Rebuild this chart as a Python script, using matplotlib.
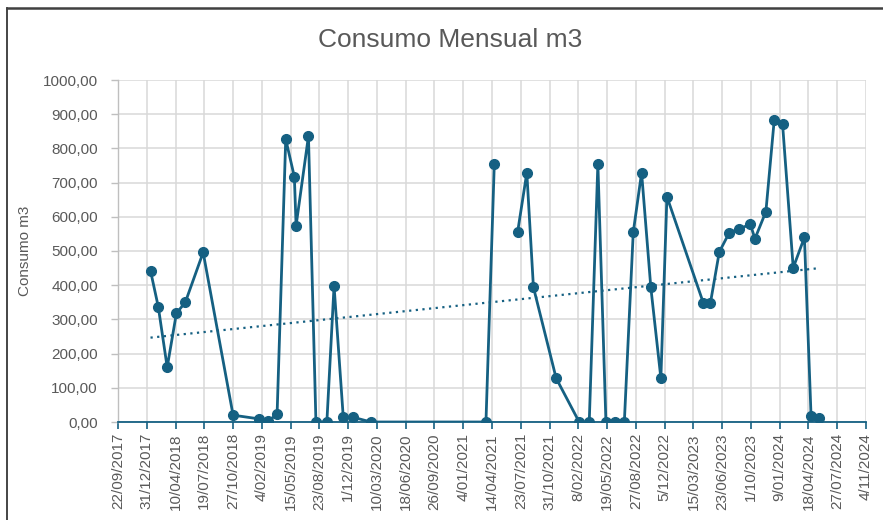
import matplotlib
matplotlib.use('Agg')
import matplotlib.pyplot as plt
import matplotlib.dates as mdates
import numpy as np
import pandas as pd
from datetime import datetime, timedelta

# Lecturas mensuales (fecha, m3); None = lectura faltante (corte en la línea)
fechas = [
    '2018-01-13', '2018-02-09', '2018-03-12', '2018-04-13', '2018-05-14', '2018-07-15',
    '2018-10-27', '2019-01-26', '2019-02-27', '2019-03-29', '2019-04-28', '2019-05-28',
    '2019-06-03', '2019-07-16', '2019-08-11', '2019-09-18', '2019-10-13', '2019-11-14',
    '2019-12-18', '2020-02-18', '2021-03-24', '2021-04-22', '2021-06-01', '2021-07-12',
    '2021-08-13', '2021-09-05', '2021-11-23', '2022-02-11', '2022-03-18', '2022-04-17',
    '2022-05-15', '2022-06-15', '2022-07-18', '2022-08-18', '2022-09-16', '2022-10-18',
    '2022-11-22', '2022-12-13', '2023-04-19', '2023-05-13', '2023-06-13', '2023-07-18',
    '2023-08-19', '2023-09-29', '2023-10-15', '2023-11-22', '2023-12-21', '2024-01-19',
    '2024-02-25', '2024-04-04', '2024-04-27', '2024-05-24',
]
consumo = [
    442, 337, 160, 318, 350, 496,
    20, 9, 3, 23, 827, 717,
    574, 836, 0, 0, 398, 14,
    14, 0, 0, 755, None, 555,
    729, 394, 128, 0, 0, 755,
    0, 0, 0, 555, 729, 394,
    128, 659, 347, 347, 497, 554,
    564, 578, 536, 615, 883, 871,
    451, 540, 18, 11,
]

x_min = datetime(2017, 9, 22)
x_max = datetime(2024, 11, 4)
paso_dias = 100

azul = '#156082'
gris_txt = '#595959'
gris_grid = '#d9d9d9'

df = pd.DataFrame({'fecha': pd.to_datetime(fechas),
                   'consumo': pd.to_numeric(pd.Series(consumo, dtype='float'))})

fig = plt.figure(figsize=(8.83, 5.20), dpi=100)
ax = fig.add_axes([118 / 883, 1 - 422 / 520, (866 - 118) / 883, (422 - 80) / 520])

ax.plot(df['fecha'], df['consumo'], color=azul, linewidth=2.0, marker='o',
        markersize=7, zorder=3)

# Línea de tendencia lineal (sin los valores faltantes)
validos = df.dropna()
xn = mdates.date2num(validos['fecha'])
a, b = np.polyfit(xn, validos['consumo'], 1)
xt = np.array([xn.min(), xn.max()])
ax.plot(mdates.num2date(xt), a * xt + b, color=azul, linestyle=(0, (1, 2)),
        linewidth=1.6, zorder=2)

ax.set_xlim(x_min, x_max)
ax.set_ylim(0, 1000)

ticks = [x_min + timedelta(days=paso_dias * i)
         for i in range(int((x_max - x_min).days / paso_dias) + 1)]
ax.set_xticks(ticks)
ax.set_xticklabels([f"{t.day}/{t.month:02d}/{t.year}" for t in ticks], rotation=90)
ax.set_yticks(np.arange(0, 1001, 100))
ax.set_yticklabels([f"{v:.2f}".replace('.', ',') for v in np.arange(0, 1001, 100)])

fuente = 'Liberation Sans'
for lab in ax.get_xticklabels() + ax.get_yticklabels():
    lab.set_fontfamily(fuente)
    lab.set_color(gris_txt)
    lab.set_fontsize(11)

ax.grid(True, color=gris_grid, linewidth=1.1, zorder=0)
ax.set_axisbelow(True)
for s in ['top', 'right']:
    ax.spines[s].set_visible(False)
ax.spines['left'].set_color('#bfbfbf')
ax.spines['left'].set_linewidth(1.0)
ax.spines['bottom'].set_color(azul)
ax.spines['bottom'].set_linewidth(1.3)
ax.spines['bottom'].set_zorder(4)
ax.tick_params(axis='y', color='#bfbfbf', length=5, width=1.0, pad=9.5)
ax.tick_params(axis='x', color=azul, length=5, width=1.2, pad=3)

ax.set_ylabel('Consumo m3', fontfamily=fuente, fontsize=11, color=gris_txt)
ax.yaxis.set_label_coords(-86 / 748, 0.5)

fig.text(450 / 883, 1 - 40 / 520, 'Consumo Mensual m3', ha='center', va='center',
         fontfamily=fuente, fontsize=19, color=gris_txt)

# Borde del gráfico
fig.add_artist(plt.Line2D([7.5 / 883, 7.5 / 883], [0, 1 - 8 / 520],
                          transform=fig.transFigure, color='#262626', linewidth=1.2))
fig.add_artist(plt.Line2D([7.5 / 883, 1], [1 - 8 / 520, 1 - 8 / 520],
                          transform=fig.transFigure, color='#404040', linewidth=1.8))

fig.savefig('out.png', dpi=100)
